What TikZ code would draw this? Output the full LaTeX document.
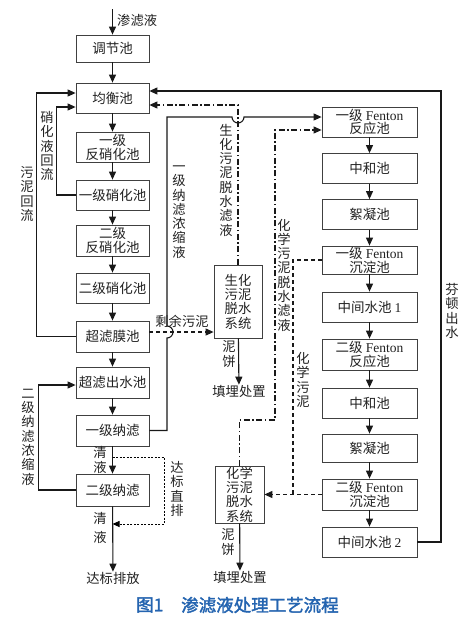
\documentclass[tikz,border=0pt]{standalone}
\usepackage{fontspec}
\setmainfont{Noto Sans CJK SC}
\newfontfamily\lat{Liberation Serif}
\newfontfamily\capfont[FakeBold=2]{Noto Sans CJK SC}
\usetikzlibrary{arrows.meta}
\definecolor{capblue}{HTML}{2464B0}
\definecolor{txt}{HTML}{222222}
\newcommand\fsz{\fontsize{13.3}{14.3}\selectfont}
\newcommand\fszb{\fontsize{13.5}{13.8}\selectfont}
\begin{document}
\begin{tikzpicture}[x=1pt,y=-1pt,
  every node/.style={text=txt},
  box/.style={draw=black!75, line width=0.8pt, inner sep=0pt, align=center, font=\fszb},
  lb/.style={box, minimum width=73pt, minimum height=30pt},
  rb/.style={box, minimum width=95pt, minimum height=30pt},
  lab/.style={inner sep=0pt, align=center, font=\fsz},
  ln/.style={line width=1.1pt, draw=black!90},
  arr/.style={ln, -{Triangle[length=8pt,width=7pt]}},
  dsh/.style={dash pattern=on 4pt off 3pt},
  ddot/.style={dash pattern=on 6pt off 2.5pt on 1.5pt off 2.5pt},
  fdot/.style={line width=0.8pt, dash pattern=on 2pt off 1.5pt}]
\fill[white] (0,0) rectangle (471,622);
\useasboundingbox (0,0) rectangle (471,622);

% left column
\node[lb, minimum height=27pt] (tj) at (112.5,48.5) {调节池};
\node[lb] (jh) at (112.5,98) {均衡池};
\node[lb] (f1) at (112.5,147) {一级\\反硝化池};
\node[lb] (x1) at (112.5,195) {一级硝化池};
\node[lb, minimum height=31pt] (f2) at (112.5,240.5) {二级\\反硝化池};
\node[lb] (x2) at (112.5,288) {二级硝化池};
\node[lb, minimum height=31pt] (cl) at (112.5,336.5) {超滤膜池};
\node[lb, minimum height=31pt] (cc) at (112.5,382.5) {超滤出水池};
\node[lb, minimum height=31pt] (n1) at (112.5,430.5) {一级纳滤};
\node[lb, minimum height=32pt] (n2) at (112.5,490) {二级纳滤};
\node[lab] (db) at (113,578) {达标排放};

% right column
\node[rb] (r1) at (369.5,122) {一级 {\lat Fenton}\\反应池};
\node[rb] (r2) at (369.5,168.5) {中和池};
\node[rb] (r3) at (369.5,214.5) {絮凝池};
\node[rb, minimum height=28pt] (r4) at (369.5,260) {一级 {\lat Fenton}\\沉淀池};
\node[rb] (r5) at (369.5,307) {中间水池 {\lat 1}};
\node[rb, minimum height=31pt] (r6) at (369.5,354.5) {二级 {\lat Fenton}\\反应池};
\node[rb] (r7) at (369.5,403) {中和池};
\node[rb, minimum height=28pt] (r8) at (369.5,448) {絮凝池};
\node[rb, minimum height=31pt] (r9) at (369.5,494.5) {二级 {\lat Fenton}\\沉淀池};
\node[rb] (r10) at (369.5,542) {中间水池 {\lat 2}};

% sludge boxes
\node[box, font=\fsz, minimum width=48pt, minimum height=73pt] (sh) at (238,301.5) {生化\\污泥\\脱水\\系统};
\node[box, font=\fsz, minimum width=49pt, minimum height=57pt] (hx) at (239.5,494.5) {化学\\污泥\\脱水\\系统};
\node[lab] (tm1) at (239,391) {填埋处置};
\node[lab] (tm2) at (240,577) {填埋处置};

% main flow
\coordinate (src) at (112.5,9);
\draw[arr] (src) -- (tj);
\foreach \a/\b in {tj/jh,jh/f1,f1/x1,x1/f2,f2/x2,x2/cl,cl/cc,cc/n1,n1/n2,n2/db,
  r1/r2,r2/r3,r3/r4,r4/r5,r5/r6,r6/r7,r7/r8,r8/r9,r9/r10,sh/tm1,hx/tm2}
  \draw[arr] (\a) -- (\b);

% returns on the left
\draw[arr] (cl.west) -- ++(-39,0) |- ([yshift=5pt]jh.west);
\draw[arr] (x1.west) -- ++(-19,0) |- ([yshift=-9pt]jh.west);
\draw[arr] (n2.west) -- ++(-37,0) |- ([yshift=-2.5pt]cc.west);

% first nanofiltration concentrate to Fenton
\draw[arr] (n1.east) -- (167,430.5) -- (167,338) arc[start angle=90,end angle=-90,radius=6]
  -- (167,117) -- (232,117) arc[start angle=180,end angle=0,radius=6] -- ([yshift=5pt]r1.west);

% biochemical sludge filtrate
\draw[arr,ddot] (sh.north) |- ([yshift=-7pt]jh.east);
% Fenton effluent
\draw[arr] (r10.east) -- (441,542) |- ([yshift=7pt]jh.east);
% chemical sludge filtrate
\draw[arr,ddot] (hx.north) |- (275,420) |- ([yshift=-8pt]r1.west);
% chemical sludge
\draw[ln,dsh] (r4.west) -| (293,494.5);
\draw[arr,dsh] (r9.west) -- (hx.east);
% excess sludge
\coordinate (ex) at ([yshift=4.5pt]cl.east);
\draw[arr,dsh] (ex) -- (ex -| sh.west);
% direct discharge
\coordinate (p1) at (112.5,457);
\coordinate (p2) at (112.5,524);
\draw[fdot,-{Triangle[length=7pt,width=6pt]}] (p1) -- (164,457) -- (164,524) -- (p2);

% labels
\node[lab, anchor=west] (lsrc) at (117,20) {渗滤液};
\node[lab] (l1) at (27,194) {污\\泥\\回\\流};
\node[lab] (l2) at (47,146) {硝\\化\\液\\回\\流};
\node[lab] (l3) at (28,437) {二\\级\\纳\\滤\\浓\\缩\\液};
\node[lab] (l4) at (179,212) {一\\级\\纳\\滤\\浓\\缩\\液};
\node[lab] (l5) at (226,180) {生\\化\\污\\泥\\脱\\水\\滤\\液};
\node[lab] (l6) at (284,275) {化\\学\\污\\泥\\脱\\水\\滤\\液};
\node[lab] (l7) at (303,380) {化\\学\\污\\泥};
\node[lab] (l8) at (452,311) {芬\\顿\\出\\水};
\node[lab] (l9) at (182,321) {剩余污泥};
\node[lab] (l10) at (229,354) {泥\\饼};
\node[lab] (l11) at (228,542) {泥\\饼};
\node[lab] (l12) at (100,460) {清\\液};
\node[lab] (l13a) at (100,518) {清};
\node[lab] (l13b) at (100,537) {液};
\node[lab] (l14) at (177,489) {达\\标\\直\\排};

% caption
\node[anchor=west, inner sep=0pt, font=\fontsize{17.5}{18}\capfont, text=capblue] (c1) at (136,605) {图1};
\node[anchor=west, inner sep=0pt, font=\fontsize{17.5}{18}\capfont, text=capblue] (c2) at (181,605) {渗滤液处理工艺流程};
\end{tikzpicture}
\end{document}
